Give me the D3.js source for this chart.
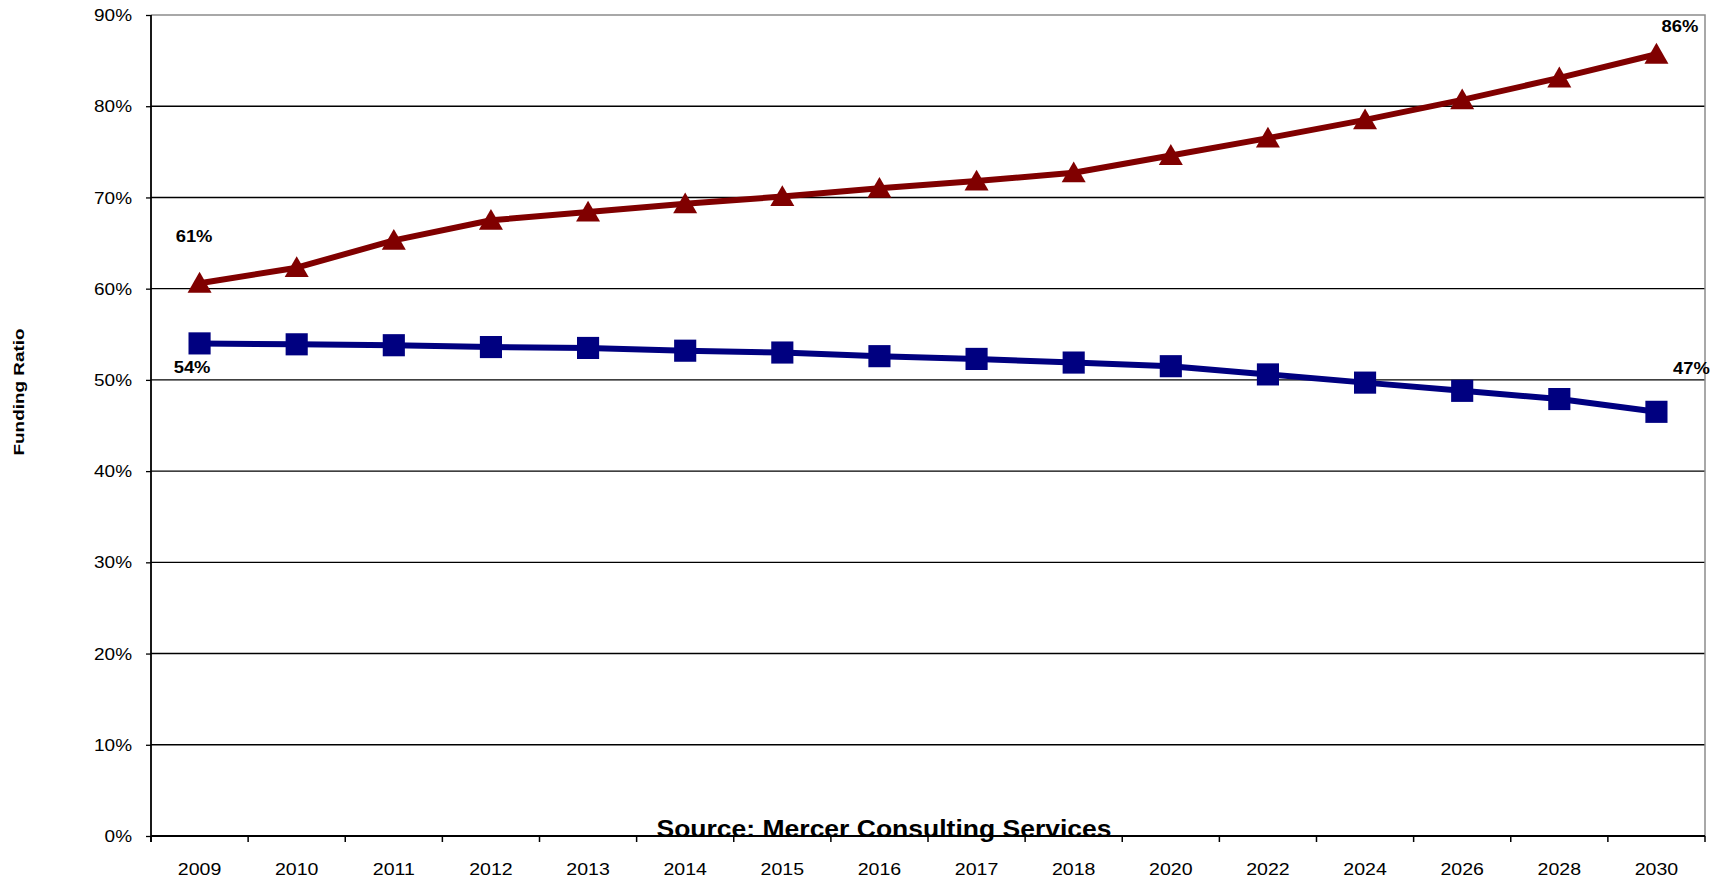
<!DOCTYPE html>
<html>
<head>
<meta charset="utf-8">
<script src="https://cdn.jsdelivr.net/npm/d3@7/dist/d3.min.js"></script>
<style>
  html, body { margin: 0; padding: 0; background: #fff; }
  svg { display: block; font-family: Arial, "Liberation Sans", sans-serif; }
</style>
</head>
<body>
<svg id="chart" width="1719" height="879"></svg>
<script>
// Years on the category axis
const years = ["2009","2010","2011","2012","2013","2014","2015","2016","2017","2018","2020","2022","2024","2026","2028","2030"];

// Funding ratio (%) per year
const fundingRising  = [60.6, 62.3, 65.3, 67.5, 68.4, 69.3, 70.1, 71.0, 71.8, 72.7, 74.6, 76.5, 78.5, 80.7, 83.1, 85.7];
const fundingFalling = [54.0, 53.9, 53.8, 53.6, 53.5, 53.2, 53.0, 52.6, 52.3, 51.9, 51.5, 50.6, 49.7, 48.8, 47.9, 46.5];

// Y-axis ticks (%)
const yTicks = [0, 10, 20, 30, 40, 50, 60, 70, 80, 90];

const svg = d3.select("#chart");
const plot = { left: 151, right: 1705, top: 15, bottom: 836 };
const stretch = 1.15; // horizontal text stretch

const x = d3.scaleBand().domain(years).range([plot.left, plot.right]).padding(0);
const y = d3.scaleLinear().domain([0, 90]).range([plot.bottom, plot.top]);
const cx = d => x(d) + x.bandwidth() / 2;

// Horizontal gridlines
svg.append("g")
  .selectAll("line")
  .data(yTicks.filter(t => t > 0 && t < 90))
  .join("line")
  .attr("x1", plot.left).attr("x2", plot.right)
  .attr("y1", d => y(d)).attr("y2", d => y(d))
  .attr("stroke", "#000").attr("stroke-width", 1.4);

// Plot frame: grey top and right edges
svg.append("path")
  .attr("d", `M${plot.left},${y(90)}H${plot.right}V${plot.bottom}`)
  .attr("fill", "none").attr("stroke", "#8c8c8c").attr("stroke-width", 1.5);

// Y axis
const yAxis = svg.append("g")
  .attr("transform", `translate(${plot.left},0)`)
  .call(d3.axisLeft(y).tickValues(yTicks).tickSize(5).tickPadding(0).tickFormat(d => d + "%"));
yAxis.select(".domain").attr("stroke", "#000").attr("stroke-width", 1.8)
  .attr("d", `M0,${plot.top}V${plot.bottom + 6}`);
yAxis.selectAll(".tick line").attr("stroke", "#000").attr("stroke-width", 1.3);
yAxis.selectAll(".tick text")
  .attr("x", null).attr("dy", null)
  .attr("font-size", 16.5).attr("fill", "#000")
  .attr("font-family", "Arial, 'Liberation Sans', sans-serif")
  .attr("text-anchor", "end")
  .attr("dominant-baseline", "central")
  .attr("transform", `translate(-19,0) scale(${stretch},1)`);

// X axis: ticks sit between categories
const xAxis = svg.append("g")
  .attr("transform", `translate(0,${plot.bottom})`)
  .call(d3.axisBottom(x).tickSize(0).tickPadding(0));
xAxis.select(".domain").attr("stroke", "#000").attr("stroke-width", 1.8)
  .attr("d", `M${plot.left},0H${plot.right}`);
xAxis.selectAll(".tick text")
  .attr("y", null).attr("dy", null)
  .attr("font-size", 17).attr("fill", "#000")
  .attr("font-family", "Arial, 'Liberation Sans', sans-serif")
  .attr("transform", `translate(0,39) scale(${stretch},1)`);

const boundaries = years.map(d => x(d)).concat([plot.right]);
svg.append("g")
  .selectAll("line")
  .data(boundaries)
  .join("line")
  .attr("x1", d => d).attr("x2", d => d)
  .attr("y1", plot.bottom).attr("y2", plot.bottom + 6)
  .attr("stroke", "#000").attr("stroke-width", 1.5);

// Y axis title
svg.append("text")
  .attr("transform", "translate(24,392) rotate(-90)")
  .attr("text-anchor", "middle")
  .attr("font-size", 15.5).attr("font-weight", "bold")
  .attr("textLength", 127).attr("lengthAdjust", "spacingAndGlyphs")
  .text("Funding Ratio");

// Series
const series = [
  { values: fundingRising,  color: "#800000", marker: d3.symbolTriangle, size: 250 },
  { values: fundingFalling, color: "#000080", marker: d3.symbolSquare,   size: 490 }
];

const line = d3.line().x((d, i) => cx(years[i])).y(d => y(d));

series.forEach(s => {
  svg.append("path")
    .datum(s.values)
    .attr("d", line)
    .attr("fill", "none")
    .attr("stroke", s.color)
    .attr("stroke-width", 6)
    .attr("stroke-linejoin", "round");

  svg.append("g")
    .selectAll("path")
    .data(s.values)
    .join("path")
    .attr("d", d3.symbol().type(s.marker).size(s.size))
    .attr("transform", (d, i) => {
      // triangle drawn with its box centred on the point
      const dy = s.marker === d3.symbolTriangle ? 2.5 : 0;
      return `translate(${cx(years[i])},${y(d) + dy})`;
    })
    .attr("fill", s.color);
});

// End-point value labels
const first = 0, last = years.length - 1;
const valueLabels = [
  { year: years[first], v: fundingRising[first],  dx: -5.5, dy: -41 },
  { year: years[first], v: fundingFalling[first], dx: -7.5, dy: 30 },
  { year: years[last],  v: fundingRising[last],   dx: 23.5, dy: -22 },
  { year: years[last],  v: fundingFalling[last],  dx: 35,   dy: -38 }
];
svg.append("g")
  .selectAll("text")
  .data(valueLabels)
  .join("text")
  .attr("transform", d => `translate(${cx(d.year) + d.dx},${y(d.v) + d.dy}) scale(${stretch},1)`)
  .attr("text-anchor", "middle")
  .attr("font-size", 16).attr("font-weight", "bold")
  .text(d => Math.round(d.v) + "%");

// Source note
svg.append("text")
  .attr("x", 884).attr("y", 836.5)
  .attr("text-anchor", "middle")
  .attr("font-size", 24).attr("font-weight", "bold")
  .attr("textLength", 455).attr("lengthAdjust", "spacingAndGlyphs")
  .text("Source: Mercer Consulting Services");
</script>
</body>
</html>
